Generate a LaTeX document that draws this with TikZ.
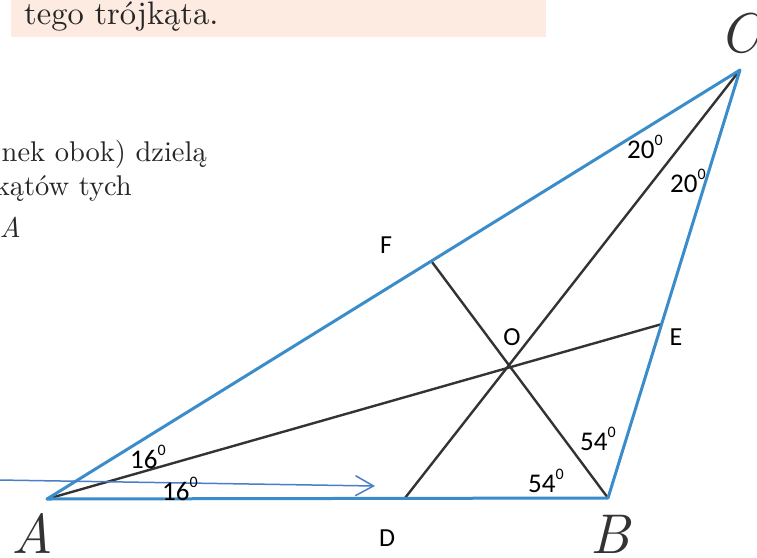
\documentclass[tikz,border=0pt]{standalone}
\usepackage{fontspec}
\newfontfamily\lab{Carlito}
\newfontfamily\lmten{lmroman10-regular.otf}[ItalicFont=lmroman10-italic.otf]
\usetikzlibrary{arrows.meta}
\definecolor{sideblue}{HTML}{3A8CCB}
\definecolor{arrblue}{HTML}{4A7EC6}
\definecolor{boxfill}{HTML}{FDEBE1}
\definecolor{cevgray}{HTML}{333333}
\newcommand{\degsup}{\raisebox{13pt}{\fontsize{16}{16}\selectfont 0}}
\begin{document}
\begin{tikzpicture}[x=1pt,y=-1pt,
  sideline/.style={draw=sideblue,line width=3pt,line join=round},
  cevline/.style={draw=cevgray,line width=2.4pt},
  arrline/.style={draw=arrblue,line width=1.5pt,-{Straight Barb[length=18pt,width=20pt,line width=1.5pt]}},
  serif/.style={inner sep=0pt,text=black!85},
  sidetext/.style={serif,anchor=base east,font=\lmten\fontsize{28.5}{32}\selectfont},
  big/.style={inner sep=0pt,text=black!80,font=\lmten\itshape\fontsize{56}{60}\selectfont},
  ptlab/.style={inner sep=0pt,text=black,font=\lab\fontsize{26}{28}\selectfont},
  deglab/.style={inner sep=0pt,anchor=base west,text=black,font=\lab\fontsize{27}{28}\selectfont}]
\useasboundingbox (0,0) rectangle (757,557);
\clip (0,0) rectangle (757,557);
% top box
\fill[boxfill] (11,-2) rectangle (546,37);
\node[serif,anchor=base west,font=\lmten\fontsize{32.5}{36}\selectfont] (top) at (24,24) {tego trójkąta.};
% side text
\node[sidetext] (s1) at (207,161) {nek obok) dzielą};
\node[sidetext] (s2) at (132,195) {kątów tych};
\node[sidetext,font=\lmten\itshape\fontsize{28.5}{32}\selectfont] (s3) at (21,237) {A};
% points
\coordinate (A) at (47,499);
\coordinate (B) at (608,498);
\coordinate (C) at (740,70);
\coordinate (D) at (405,498);
\coordinate (E) at (662,324);
\coordinate (F) at (432,262);
\coordinate (O) at (510,366);
% cevians
\draw[cevline] (A) -- (E);
\draw[cevline] (C) -- (D);
\draw[cevline] (B) -- (F);
% triangle
\draw[sideline] (A) -- (B) -- (C) -- cycle;
% arrow
\coordinate (as) at (-2,480);
\coordinate (at) at (375,486);
\draw[arrline] (as) -- (at);
% vertex labels
\node[big] (lA) at (32,533) {A};
\node[big] (lB) at (610,534) {B};
\node[big] (lC) at (740,33) {C};
\node[ptlab] (lD) at (387,538) {D};
\node[ptlab] (lE) at (676,337) {E};
\node[ptlab] (lF) at (386,245) {F};
\node[ptlab] (lO) at (512,337) {O};
% angle labels
\node[deglab] (g1) at (130,468) {16\degsup};
\node[deglab] (g2) at (162,500) {16\degsup};
\node[deglab] (g3) at (580,450) {54\degsup};
\node[deglab] (g4) at (528,492) {54\degsup};
\node[deglab] (g5) at (627,158) {20\degsup};
\node[deglab] (g6) at (670,192) {20\degsup};
\end{tikzpicture}
\end{document}
